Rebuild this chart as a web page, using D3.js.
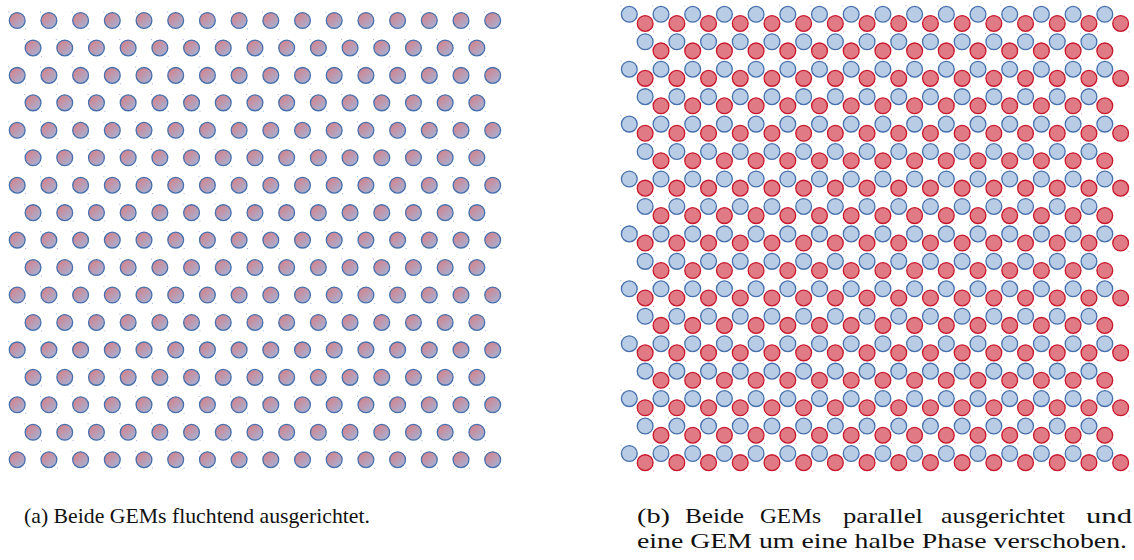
<!DOCTYPE html>
<html>
<head>
<meta charset="utf-8">
<script src="https://cdn.jsdelivr.net/npm/d3@7/dist/d3.min.js"></script>
<style>
  html, body { margin: 0; padding: 0; background: #fff; }
  svg { display: block; }
</style>
</head>
<body>
<div id="chart"></div>
<script>
// hole lattice: row index and column index (odd rows are shifted by half a pitch)
var rowIdx = [0, 1, 2, 3, 4, 5, 6, 7, 8, 9, 10, 11, 12, 13, 14, 15, 16];
var colsEven = [0, 1, 2, 3, 4, 5, 6, 7, 8, 9, 10, 11, 12, 13, 14, 15];
var colsOdd = [0, 1, 2, 3, 4, 5, 6, 7, 8, 9, 10, 11, 12, 13, 14];
// shift of the second GEM (in pitch units / row units)
var shiftA = [0, 0];
var shiftB = [0.5, 1 / 3];
var captionA = "(a) Beide GEMs fluchtend ausgerichtet.";
var captionB = ["(b) Beide GEMs parallel ausgerichtet und", "eine GEM um eine halbe Phase verschoben."];

function holes(cols1, cols2, shift) {
    var out = [];
    rowIdx.forEach(function(r) {
        var cs = (r % 2 === 0) ? cols1 : cols2;
        cs.forEach(function(c) {
            out.push({u: c + (r % 2) * 0.5 + shift[0], v: r + shift[1]});
        });
    });
    return out;
}

var W = 1134, H = 560, r = 7.9;
var svg = d3.select("#chart").append("svg").attr("width", W).attr("height", H);

var defs = svg.append("defs");
var grad = defs.append("linearGradient").attr("id", "mix")
    .attr("x1", "15%").attr("y1", "10%").attr("x2", "85%").attr("y2", "90%");
grad.append("stop").attr("offset", "0%").attr("stop-color", "#d3838d");
grad.append("stop").attr("offset", "100%").attr("stop-color", "#a7b0d2");

function drawLayer(g, data, x, y, fill, stroke, dotTL, dotBR) {
    var grp = g.append("g");
    grp.selectAll("circle").data(data).enter().append("circle")
        .attr("cx", function(d) { return x(d.u); })
        .attr("cy", function(d) { return y(d.v); })
        .attr("r", r)
        .attr("fill", fill)
        .attr("stroke", stroke)
        .attr("stroke-width", 1.3);
    if (dotTL) {
        grp.selectAll("rect.tl").data(data).enter().append("rect")
            .attr("class", "tl")
            .attr("x", function(d) { return x(d.u) - r - 1; })
            .attr("y", function(d) { return y(d.v) - r - 1; })
            .attr("width", 1).attr("height", 1)
            .attr("fill", dotTL).attr("opacity", 0.7);
    }
    if (dotBR) {
        grp.selectAll("rect.br").data(data).enter().append("rect")
            .attr("class", "br")
            .attr("x", function(d) { return x(d.u) + r; })
            .attr("y", function(d) { return y(d.v) + r; })
            .attr("width", 1).attr("height", 1)
            .attr("fill", dotBR).attr("opacity", 0.7);
    }
}

// panel (a)
var xa = d3.scaleLinear().domain([0, 15]).range([17.2, 492.7]);
var ya = d3.scaleLinear().domain([0, 16]).range([20.5, 459.7]);
var ga = svg.append("g");
drawLayer(ga, holes(colsEven, colsOdd, shiftA), xa, ya, "url(#mix)", "#4670ad", "#6a8cc4", "#6a8cc4");

// panel (b)
var xb = d3.scaleLinear().domain([0, 15]).range([629.3, 1104.8]);
var yb = d3.scaleLinear().domain([0, 16]).range([14.3, 453.5]);
var gb = svg.append("g");
drawLayer(gb, holes(colsEven, colsOdd, shiftA), xb, yb, "#b8cce5", "#4670ad", "#7f9fd0", null);
drawLayer(gb, holes(colsEven, colsOdd, shiftB), xb, yb, "#e07a84", "#c8162b", null, "#e06070");

// captions
var font = "'Liberation Serif', 'DejaVu Serif', serif";

function textAt(t, x0, y0, width) {
    svg.append("text").attr("x", x0).attr("y", y0)
        .attr("font-family", font).attr("font-size", 22)
        .attr("textLength", width).attr("lengthAdjust", "spacingAndGlyphs")
        .attr("fill", "#111").text(t);
}

textAt(captionA, 24, 523, 346);

// first line of (b) is justified: each word placed on its own
var starts = [637, 685, 760, 843, 941, 1086];
var ends = [670, 744, 821, 923, 1065, 1132];
captionB[0].split(" ").forEach(function(w, i) {
    textAt(w, starts[i], 523, ends[i] - starts[i]);
});
textAt(captionB[1], 637, 548, 490);
</script>
</body>
</html>
